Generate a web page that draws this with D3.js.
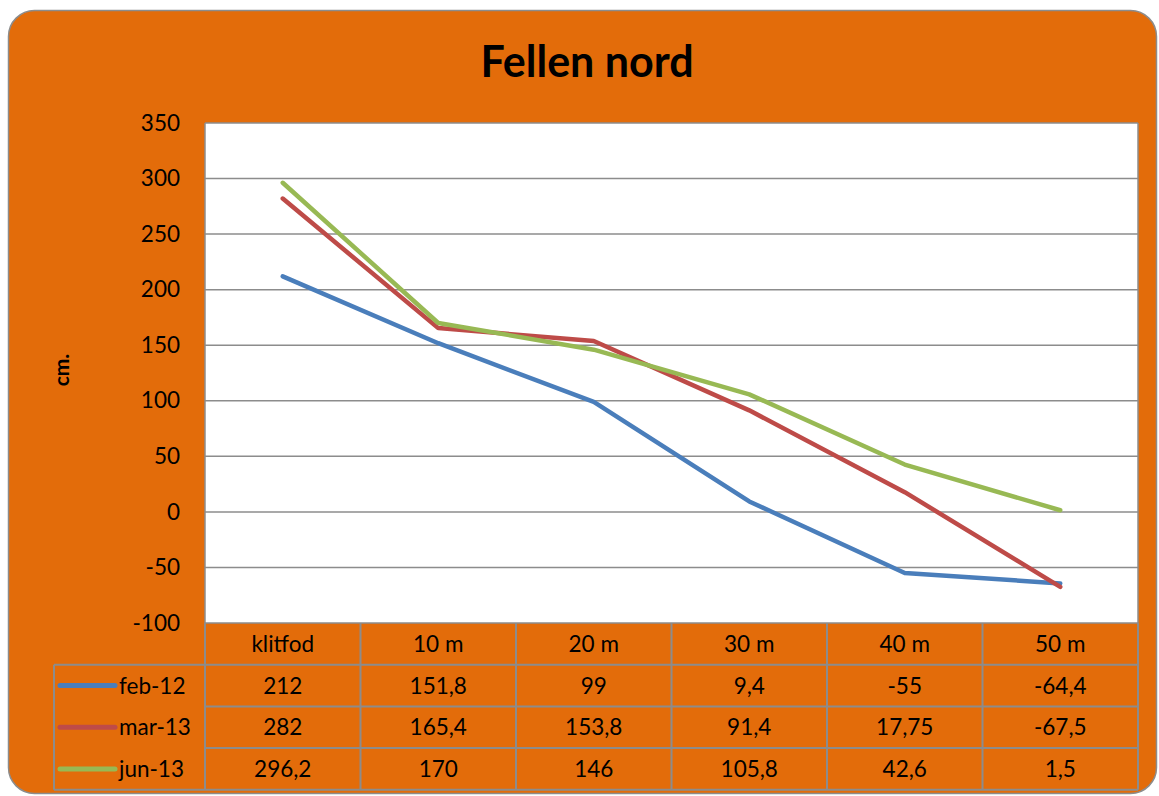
<!DOCTYPE html>
<html>
<head>
<meta charset="utf-8">
<script src="https://cdn.jsdelivr.net/npm/d3@7"></script>
<style>
body { margin: 0; background: #fff; }
text { font-family: Lato, "Open Sans", sans-serif; fill: #000; }
</style>
</head>
<body>
<svg id="chart"></svg>
<script>
var svgW = 1159
var svgH = 796

// data
var categories = ["klitfod", "10 m", "20 m", "30 m", "40 m", "50 m"]
var seriesNames = ["feb-12", "mar-13", "jun-13"]
var feb12 = [212, 151.8, 99, 9.4, -55, -64.4]
var mar13 = [282, 165.4, 153.8, 91.4, 17.75, -67.5]
var jun13 = [296.2, 170, 146, 105.8, 42.6, 1.5]
var tableLabels = [
    ["212", "151,8", "99", "9,4", "-55", "-64,4"],
    ["282", "165,4", "153,8", "91,4", "17,75", "-67,5"],
    ["296,2", "170", "146", "105,8", "42,6", "1,5"]
]
var yTicks = [-100, -50, 0, 50, 100, 150, 200, 250, 300, 350]
var colors = ["#4a7ebb", "#be4b48", "#98b954"]

var allSeries = [feb12, mar13, jun13]

var plot = {left: 205, right: 1138, top: 123, bottom: 623}
var rowH = 41.7
var legendLeft = 54
var fs = "22.5px"

var svg = d3.select("#chart")
    .attr("width", svgW)
    .attr("height", svgH)

// outer box
svg.append("rect")
    .attr("x", 8.5)
    .attr("y", 10.5)
    .attr("width", 1148)
    .attr("height", 783)
    .attr("rx", 26)
    .attr("fill", "#e36c0a")
    .attr("stroke", "#8c8c8c")
    .attr("stroke-width", 1.5)

// title
svg.append("text")
    .text("Fellen nord")
    .attr("x", 587)
    .attr("y", 77)
    .attr("text-anchor", "middle")
    .style("font-weight", "bold")
    .style("font-size", "43px")

var xScale = d3.scaleBand()
    .domain(categories)
    .range([plot.left, plot.right])

var yScale = d3.scaleLinear()
    .domain([-100, 350])
    .range([plot.bottom, plot.top])

// plot area
svg.append("rect")
    .attr("x", plot.left)
    .attr("y", plot.top)
    .attr("width", plot.right - plot.left)
    .attr("height", plot.bottom - plot.top)
    .attr("fill", "#fff")

// gridlines
svg.append("g")
    .selectAll("line")
    .data(yTicks)
    .enter()
    .append("line")
    .attr("x1", plot.left)
    .attr("x2", plot.right)
    .attr("y1", function(d){return yScale(d)})
    .attr("y2", function(d){return yScale(d)})
    .attr("stroke", "#8c8c8c")
    .attr("stroke-width", 1.5)

svg.append("line")
    .attr("x1", plot.left).attr("x2", plot.left)
    .attr("y1", plot.top).attr("y2", plot.bottom)
    .attr("stroke", "#8c8c8c").attr("stroke-width", 1.5)
svg.append("line")
    .attr("x1", plot.right).attr("x2", plot.right)
    .attr("y1", plot.top).attr("y2", plot.bottom)
    .attr("stroke", "#8c8c8c").attr("stroke-width", 1.5)

// y axis labels
var yAxis = d3.axisLeft(yScale)
    .tickValues(yTicks)
    .tickFormat(function(d){return String(d)})
    .tickSize(0)
    .tickPadding(25)
var yg = svg.append("g")
    .attr("transform", "translate(" + plot.left + ",0)")
    .call(yAxis)
yg.select(".domain").remove()
yg.selectAll("text")
    .style("font-size", fs)
    .style("font-family", "Lato, 'Open Sans', sans-serif")
    .attr("fill", "#000")

// y label
svg.append("text")
    .text("cm.")
    .attr("transform", "translate(69,370) rotate(-90)")
    .attr("text-anchor", "middle")
    .style("font-weight", "bold")
    .style("font-size", "21px")

// lines
var line = d3.line()
    .x(function(d, i){return xScale(categories[i]) + xScale.bandwidth()/2})
    .y(function(d){return yScale(d)})

svg.append("g")
    .selectAll("path")
    .data(allSeries)
    .enter()
    .append("path")
    .attr("d", line)
    .attr("fill", "none")
    .attr("stroke", function(d, i){return colors[i]})
    .attr("stroke-width", 4.5)
    .attr("stroke-linecap", "round")
    .attr("stroke-linejoin", "round")

// data table
var table = svg.append("g")
var gridColor = "#8c8c8c"
var tableBottom = plot.bottom + rowH * 4

// header row
table.selectAll(".hdr")
    .data(categories)
    .enter()
    .append("text")
    .attr("class", "hdr")
    .text(function(d){return d})
    .attr("x", function(d){return xScale(d) + xScale.bandwidth()/2})
    .attr("y", plot.bottom + rowH/2 + 8)
    .attr("text-anchor", "middle")
    .style("font-size", fs)

// value rows
seriesNames.forEach(function(name, r)
{
    var yc = plot.bottom + rowH * (r + 1) + rowH/2
    table.selectAll(".row" + r)
        .data(tableLabels[r])
        .enter()
        .append("text")
        .attr("class", "row" + r)
        .text(function(d){return d})
        .attr("x", function(d, i){return xScale(categories[i]) + xScale.bandwidth()/2})
        .attr("y", yc + 8)
        .attr("text-anchor", "middle")
        .style("font-size", fs)

    table.append("line")
        .attr("x1", legendLeft + 6)
        .attr("x2", legendLeft + 61)
        .attr("y1", yc)
        .attr("y2", yc)
        .attr("stroke", colors[r])
        .attr("stroke-width", 5)
        .attr("stroke-linecap", "round")

    table.append("text")
        .text(name)
        .attr("x", legendLeft + 65)
        .attr("y", yc + 8)
        .style("font-size", fs)
})

// table grid: horizontal
for (var k = 1; k <= 4; k++)
{
    table.append("line")
        .attr("x1", k == 1 ? legendLeft : plot.left)
        .attr("x2", plot.right)
        .attr("y1", plot.bottom + rowH * k)
        .attr("y2", plot.bottom + rowH * k)
        .attr("stroke", gridColor)
        .attr("stroke-width", 2)
}
table.append("line")
    .attr("x1", legendLeft).attr("x2", plot.left)
    .attr("y1", tableBottom).attr("y2", tableBottom)
    .attr("stroke", gridColor).attr("stroke-width", 2)

// table grid: vertical
var vlines = categories.map(function(c){return xScale(c)}).concat([plot.right])
table.selectAll(".vl")
    .data(vlines)
    .enter()
    .append("line")
    .attr("class", "vl")
    .attr("x1", function(d){return d})
    .attr("x2", function(d){return d})
    .attr("y1", plot.bottom)
    .attr("y2", tableBottom)
    .attr("stroke", gridColor)
    .attr("stroke-width", 2)
table.append("line")
    .attr("x1", legendLeft).attr("x2", legendLeft)
    .attr("y1", plot.bottom + rowH).attr("y2", tableBottom)
    .attr("stroke", gridColor).attr("stroke-width", 2)
</script>
</body>
</html>
